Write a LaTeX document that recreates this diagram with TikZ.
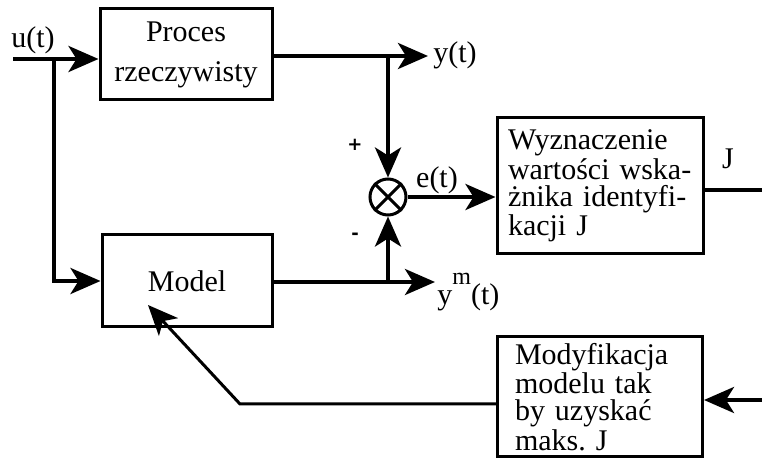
\documentclass[tikz,border=0pt]{standalone}
\usepackage{fontspec}
\setmainfont{Liberation Serif}
\newfontfamily\znaki{DejaVu Sans}
\usetikzlibrary{positioning,arrows.meta}

\tikzset{
  blok/.style={draw, line width=1.5pt, inner sep=0pt},
  sygnal/.style={line width=2pt, -{Stealth[length=15pt,width=13pt,inset=4pt]}},
  linia/.style={line width=2pt},
  opis/.style={font=\fontsize{15}{18}\selectfont, inner sep=0pt},
  znak/.style={font=\znaki\bfseries\fontsize{9}{9}\selectfont, inner sep=0pt},
}

\begin{document}
\begin{tikzpicture}[x=0.5pt, y=-0.5pt]
\useasboundingbox (0,0) rectangle (762,460);
% bloki
\node[blok, minimum width=86pt, minimum height=45.5pt, align=center, font=\fontsize{15}{20}\selectfont] (proc) at (186,54.5) {Proces\\rzeczywisty};
\node[blok, minimum width=85pt, minimum height=46pt, font=\fontsize{15}{18}\selectfont] (model) at (187,281) {Model};
\node[blok, minimum width=103pt, minimum height=68pt, text width=92pt, align=left, font=\fontsize{15}{13.5}\selectfont] (wyzn) at (600,186) {Wyznaczenie\\wartości wska-\\żnika identyfi-\\kacji J};
\node[blok, minimum width=102.5pt, minimum height=60pt, text width=85pt, align=left, font=\fontsize{15}{13.5}\selectfont] (modyf) at (600,397) {Modyfikacja\\modelu tak\\by uzyskać\\maks.\ J};
\node[draw, circle, line width=1.5pt, minimum size=18pt, inner sep=0pt] (sum) at (388,197) {};
\draw[line width=1.5pt] (sum.45) -- (sum.225) (sum.135) -- (sum.315);
% punkty
\coordinate (wej) at (13,59);
\coordinate (rozg) at (54,59);
\coordinate (ywy) at (428,56);
\coordinate (ymwy) at (435,282);
\coordinate (jwy) at (762,190);
\coordinate (mwej) at (762,400);
\coordinate (zalom) at (240,404);
\coordinate (grot) at (148,305);
% sygnaly
\draw[sygnal] (wej) -- (proc.west |- wej);
\draw[sygnal] (rozg) |- (model.west);
\draw[linia] (proc.east |- ywy) -- (ywy -| sum);
\draw[sygnal] (ywy -| sum) -- (ywy);
\draw[sygnal] (ywy -| sum) -- (sum.north);
\draw[linia] (model.east |- ymwy) -- (ymwy -| sum);
\draw[sygnal] (ymwy -| sum) -- (ymwy);
\draw[sygnal] (ymwy -| sum) -- (sum.south);
\draw[sygnal] (sum.east) -- (sum.east -| wyzn.west);
\draw[linia] (wyzn.east |- jwy) -- (jwy);
\draw[sygnal] (mwej) -- (modyf.east |- mwej);
\draw[sygnal, line width=1.5pt] (modyf.west |- zalom) -- (zalom) -- (grot);
% opisy
\node[opis] (u) at (33,40) {u(t)};
\node[opis] (y) at (455,55) {y(t)};
\node[opis] (e) at (437,180) {e(t)};
\node[opis] (J) at (728,159) {J};
\node[opis, anchor=base west] (ym) at (437,305) {y\raisebox{10pt}{\fontsize{12}{12}\selectfont m}(t)};
\node[znak] (plus) at (355,145) {+};
\node[znak] (minus) at (355,236) {-};
\end{tikzpicture}
\end{document}
